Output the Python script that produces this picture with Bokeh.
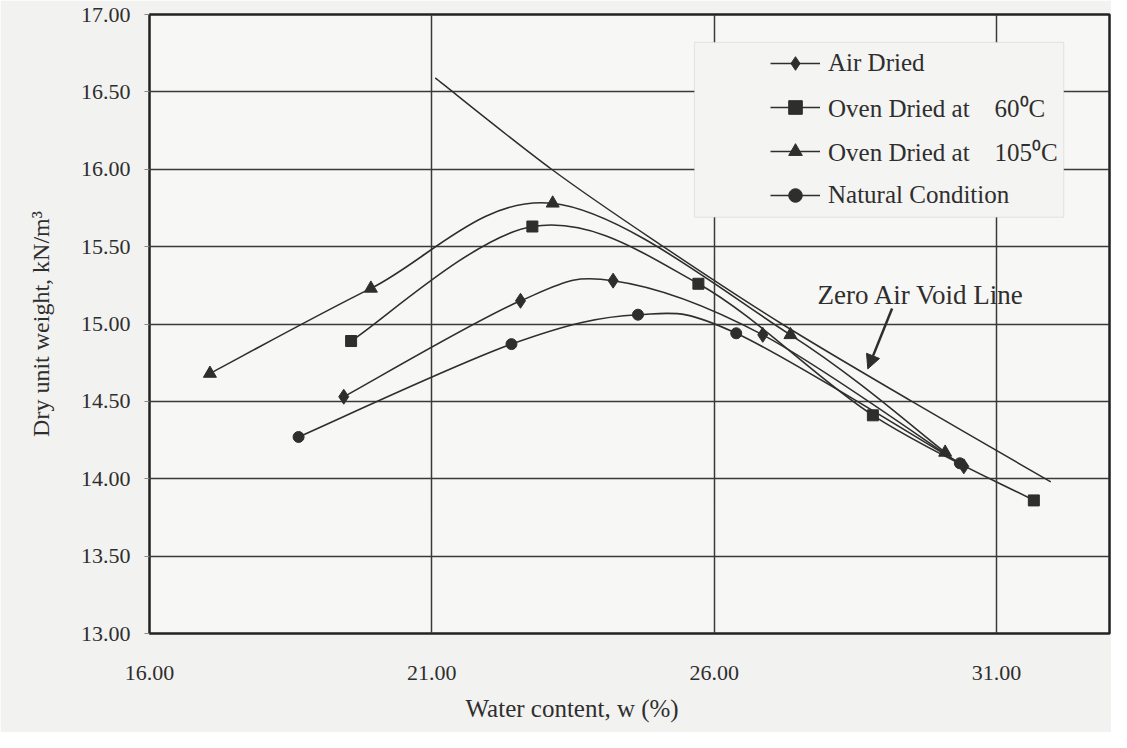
from bokeh.plotting import figure
from bokeh.models import (FixedTicker, NumeralTickFormatter, Legend, LegendItem,
                          BoxAnnotation, Label, Arrow, NormalHead, Title, Range1d)
from bokeh.embed import file_html
from bokeh.resources import INLINE

# ---- data (water content %, dry unit weight kN/m3) ----
air_w = [19.44, 22.57, 24.21, 26.86, 30.42]
air_g = [14.53, 15.15, 15.28, 14.93, 14.08]

oven60_w = [19.57, 22.78, 25.72, 28.81, 31.66]
oven60_g = [14.89, 15.63, 15.26, 14.41, 13.86]

oven105_w = [17.07, 19.92, 23.14, 27.35, 30.09]
oven105_g = [14.68, 15.23, 15.78, 14.93, 14.17]

natural_w = [18.64, 22.41, 24.65, 26.39, 30.35]
natural_g = [14.27, 14.87, 15.06, 14.94, 14.10]

zav_w = [21.06, 23.12, 25.10, 27.20, 29.50, 31.96]
zav_g = [16.59, 16.00, 15.50, 15.00, 14.50, 13.98]

x_ticks = [16, 21, 26, 31]
y_ticks = [13.0, 13.5, 14.0, 14.5, 15.0, 15.5, 16.0, 16.5, 17.0]

labels = ["Air Dried", "Oven Dried at    60\u2070C", "Oven Dried at    105\u2070C", "Natural Condition"]

INK = "#2e2e2e"
SERIF = "Liberation Serif"


def smooth_segments(xs, ys):
    """Bezier control points (Catmull-Rom style smoothing, as in spreadsheet smoothed lines)."""
    n = len(xs)
    out = dict(x0=[], y0=[], x1=[], y1=[], cx0=[], cy0=[], cx1=[], cy1=[])
    for i in range(n - 1):
        im = i - 1 if i > 0 else i
        ip = i + 2 if i + 2 < n else i + 1
        out["x0"].append(xs[i]); out["y0"].append(ys[i])
        out["x1"].append(xs[i + 1]); out["y1"].append(ys[i + 1])
        out["cx0"].append(xs[i] + (xs[i + 1] - xs[im]) / 6.0)
        out["cy0"].append(ys[i] + (ys[i + 1] - ys[im]) / 6.0)
        out["cx1"].append(xs[i + 1] - (xs[ip] - xs[i]) / 6.0)
        out["cy1"].append(ys[i + 1] - (ys[ip] - ys[i]) / 6.0)
    return out


p = figure(width=1111, height=732, output_backend="svg", toolbar_location=None,
           x_range=Range1d(16, 33), y_range=Range1d(13, 17),
           min_border_left=149, min_border_right=2, min_border_top=14, min_border_bottom=95)

p.background_fill_color = "#f7f7f5"
p.border_fill_color = "#f2f2f0"
p.outline_line_color = "#222222"
p.outline_line_width = 2.5

# axes
p.xaxis.ticker = FixedTicker(ticks=x_ticks)
p.yaxis.ticker = FixedTicker(ticks=y_ticks)
p.xaxis.formatter = NumeralTickFormatter(format="0.00")
p.yaxis.formatter = NumeralTickFormatter(format="0.00")
for ax in (p.xaxis, p.yaxis):
    ax.axis_line_color = None
    ax.major_label_text_font = SERIF
    ax.major_label_text_font_size = "22px"
    ax.major_label_text_color = INK
    ax.minor_tick_line_color = None
    ax.major_tick_in = 0
p.xaxis.major_tick_out = 0
p.xaxis.major_label_standoff = 32
p.yaxis.major_tick_out = 5
p.yaxis.major_tick_line_color = "#888888"
p.yaxis.major_label_standoff = 14

p.yaxis.axis_label = "Dry unit weight, kN/m\u00b3"
p.yaxis.axis_label_text_font = SERIF
p.yaxis.axis_label_text_font_size = "24px"
p.yaxis.axis_label_text_font_style = "normal"
p.yaxis.axis_label_text_color = INK
p.yaxis.axis_label_standoff = 24

p.add_layout(Title(text="Water content, w (%)", align="left", offset=316,
                   text_font=SERIF, text_font_size="25px", text_font_style="normal",
                   text_color=INK, standoff=21), "below")

# grids
p.xgrid.ticker = FixedTicker(ticks=x_ticks)
p.ygrid.ticker = FixedTicker(ticks=y_ticks)
p.xgrid.grid_line_color = "#3a3a3a"
p.ygrid.grid_line_color = "#3a3a3a"
p.xgrid.grid_line_width = 1.5
p.ygrid.grid_line_width = 1.5

# zero air void line
zs = smooth_segments(zav_w, zav_g)
p.bezier(x0=zs["x0"], y0=zs["y0"], x1=zs["x1"], y1=zs["y1"],
         cx0=zs["cx0"], cy0=zs["cy0"], cx1=zs["cx1"], cy1=zs["cy1"],
         line_color=INK, line_width=1.5)

series = [
    (air_w, air_g, "diamond", 15),
    (oven60_w, oven60_g, "square", 11),
    (oven105_w, oven105_g, "triangle", 13),
    (natural_w, natural_g, "circle", 11),
]

items = []
for (xs, ys, marker, size), lab in zip(series, labels):
    s = smooth_segments(xs, ys)
    rl = p.bezier(x0=s["x0"], y0=s["y0"], x1=s["x1"], y1=s["y1"],
                  cx0=s["cx0"], cy0=s["cy0"], cx1=s["cx1"], cy1=s["cy1"],
                  line_color=INK, line_width=1.6)
    rp = p.scatter(xs, ys, marker=marker, size=size, fill_color=INK, line_color=INK)
    items.append(LegendItem(label=lab, renderers=[rl, rp]))

# legend box (background panel) and legend
box = BoxAnnotation(left=25.65, right=32.19, bottom=15.69, top=16.82,
                    fill_color="#f4f4f2", fill_alpha=1.0,
                    line_color="#b5b5b5", line_width=1, level="annotation")
p.add_layout(box)

legend = Legend(items=items, location=(613, 413),
                background_fill_alpha=0, border_line_alpha=0,
                padding=8, spacing=10, glyph_width=50, glyph_height=34,
                label_height=34, label_standoff=8,
                label_text_font=SERIF, label_text_font_size="25px",
                label_text_color=INK)
p.add_layout(legend)

# annotation for zero air void line
p.add_layout(Label(x=27.83, y=15.19, text="Zero Air Void Line", text_baseline="middle",
                   text_font=SERIF, text_font_size="27px", text_color=INK))
p.add_layout(Arrow(end=NormalHead(size=14, fill_color=INK, line_color=INK),
                   x_start=29.15, y_start=15.10, x_end=28.72, y_end=14.71,
                   line_color=INK, line_width=2.5))

open("out.html", "w").write(file_html(p, INLINE))
